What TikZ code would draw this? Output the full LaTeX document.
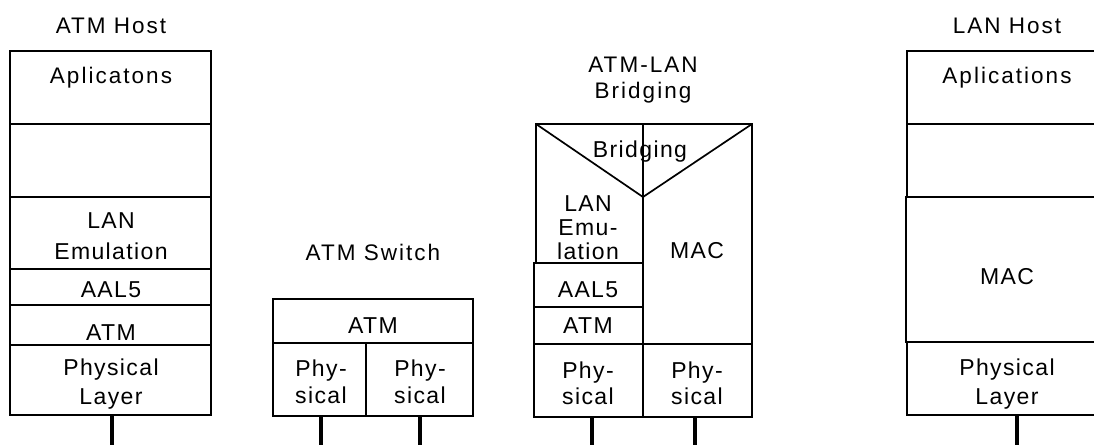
\documentclass[tikz,border=0pt]{standalone}
\usepackage{fontspec}
\setmainfont{Liberation Sans}[LetterSpace=6]
\newfontfamily\ttlfont{Liberation Sans}[LetterSpace=9]
\begin{document}
\begin{tikzpicture}[x=1pt,y=-1pt,
  lay/.style={draw, line width=1.7pt, inner sep=0pt, outer sep=0pt, anchor=north west},
  tx/.style={anchor=base, inner sep=0pt, align=center, font=\fontsize{23}{29}\selectfont},
  ttl/.style={tx, font=\ttlfont\fontsize{22.5}{27}\selectfont},
  wire/.style={line width=3.6pt},
  edge/.style={line width=1.7pt}]
\useasboundingbox (0,0) rectangle (1094,445);
\newcommand\Lbox[5]{\node[lay, minimum width=#4pt, minimum height=#5pt] (#1) at (#2,#3) {};}
% ---------------- ATM Host ----------------
\Lbox{hApp}{10}{51}{201}{73}
\Lbox{hBlank}{10}{124}{201}{73}
\Lbox{hLane}{10}{197}{201}{72}
\Lbox{hAal}{10}{269}{201}{36}
\Lbox{hAtm}{10}{305}{201}{40}
\Lbox{hPhy}{10}{345}{201}{70}
\node[ttl] (tHost) at (111,33) {ATM Host};
\node[ttl] (lhApp) at (111,83) {Aplicatons};
\node[tx,font=\fontsize{23}{31}\selectfont] (lhLane) at (111,259) {LAN\\Emulation};
\node[tx] (lhAal) at (111,297) {AAL5};
\node[tx] (lhAtm) at (111,340) {ATM};
\node[tx] (lhPhy) at (111,404) {Physical\\Layer};
\coordinate (eH) at (112,445);
\draw[wire] (eH|-hPhy.south) -- (eH);
% ---------------- ATM Switch ----------------
\Lbox{sAtm}{273}{299}{200}{44}
\Lbox{sPhyL}{273}{343}{93}{73}
\Lbox{sPhyR}{366}{343}{107}{73}
\node[ttl] (tSw) at (373,260) {ATM Switch};
\node[tx] (lsAtm) at (373,333) {ATM};
\node[tx,font=\fontsize{23}{27}\selectfont] (lsPhyL) at (321,403) {Phy-\\sical};
\node[tx,font=\fontsize{23}{27}\selectfont] (lsPhyR) at (420,403) {Phy-\\sical};
\coordinate (eS1) at (321,445);
\coordinate (eS2) at (420,445);
\draw[wire] (eS1|-sPhyL.south) -- (eS1);
\draw[wire] (eS2|-sPhyR.south) -- (eS2);
% ---------------- ATM-LAN Bridging ----------------
\Lbox{bLane}{536}{124}{107}{139}
\Lbox{bMac}{643}{124}{109}{220}
\Lbox{bAal}{534}{263}{109}{44}
\Lbox{bAtm}{534}{307}{109}{37}
\Lbox{bPhyL}{534}{344}{109}{73}
\Lbox{bPhyR}{643}{344}{109}{73}
\coordinate (vtip) at (643,197);
\draw[edge] (bLane.north west) -- (vtip) -- (bMac.north east);
\node[ttl,font=\ttlfont\fontsize{22.5}{26}\selectfont] (tBr) at (643,98) {ATM-LAN\\Bridging};
\node[tx] (lbBr) at (640,157) {Bridging};
\node[tx,font=\fontsize{23}{24}\selectfont] (lbLane) at (588,259) {LAN\\Emu-\\lation};
\node[tx] (lbMac) at (697,258) {MAC};
\node[tx] (lbAal) at (588,297) {AAL5};
\node[tx] (lbAtm) at (588,333) {ATM};
\node[tx,font=\fontsize{23}{26}\selectfont] (lbPhyL) at (588,404) {Phy-\\sical};
\node[tx,font=\fontsize{23}{26}\selectfont] (lbPhyR) at (697,404) {Phy-\\sical};
\coordinate (eB1) at (592,445);
\coordinate (eB2) at (695,445);
\draw[wire] (eB1|-bPhyL.south) -- (eB1);
\draw[wire] (eB2|-bPhyR.south) -- (eB2);
% ---------------- LAN Host ----------------
\Lbox{lApp}{907}{51}{201}{73}
\Lbox{lBlank}{907}{124}{201}{73}
\Lbox{lMac}{906}{197}{202}{145}
\Lbox{lPhy}{907}{342}{201}{73}
\node[ttl] (tLan) at (1007,33) {LAN Host};
\node[ttl] (llApp) at (1007,83) {Aplications};
\node[tx] (llMac) at (1007,284) {MAC};
\node[tx] (llPhy) at (1007,404) {Physical\\Layer};
\coordinate (eL) at (1017,445);
\draw[wire] (eL|-lPhy.south) -- (eL);
\end{tikzpicture}
\end{document}
